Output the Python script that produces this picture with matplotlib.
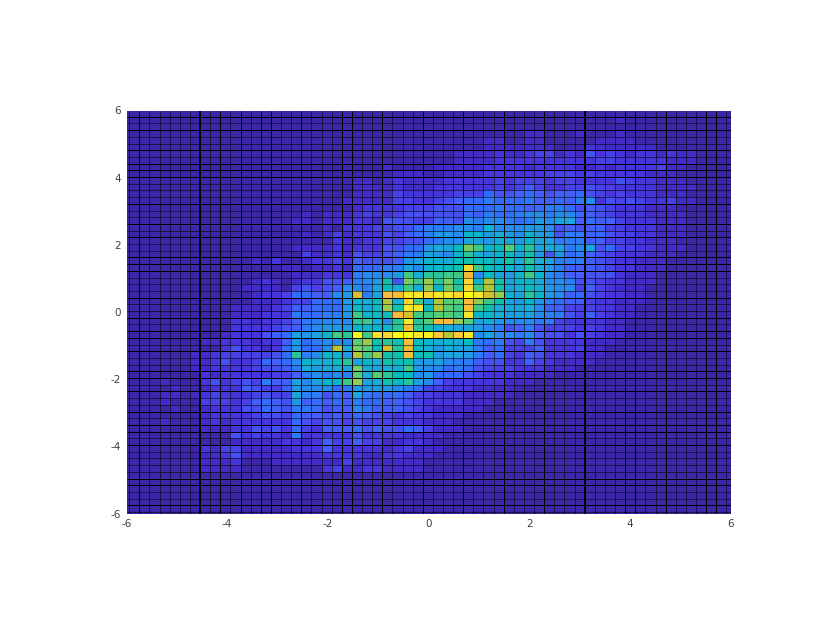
import numpy as np
import matplotlib.pyplot as plt
from matplotlib.colors import LinearSegmentedColormap

# counts, top row first, left column first
counts = [
    [1]*61,
    [1]*49 + [2] + [1]*11,
    [1]*61,
    [1]*40 + [2,2,1,1,1,2,1,1,1,2,1,1,1,1,1,1,1,1,1,1,1],
    [1]*36 + [2,2,1,1] + [2,2,1,1,1,1,1,2,2,2,2,1,1,1,1,1,1,1,1,1,1],
    [1]*36 + [2,2,2,2] + [2,2,2,1,1,1,3,2,2,2,2,2,2,1,1,1,1,1,1,1,1],
    [1,1,1,1,1,1,1, 1,1,1,1,1,1,1,1,1,1,1,1, 1,1,1,1,1,1,1,1,1,1,1,1,1,1,2,2,2,2,3,2,2, 3,4,4,2,3,2,5,3,4,3,2,3,3,2,3,2,2,1,1,1,1],
    [1,1,1,1,1,1,1, 1,1,1,1,1,1,1,1,1,1,1,1, 1,1,1,1,1,1,1,1,1,1,1,1,1,1,2,2,2,2,3,3,3, 3,3,3,3,3,3,3,4,4,3,3,3,3,3,2,2,2,1,1,1,1],
    [1,1,1,1,1,1,1, 1,1,1,1,1,1,1,1,1,1,1,1, 1,1,1,1,1,1,1,2,1,1,1,1,2,2,2,2,2,3,3,3,3, 2,3,3,3,3,2,2,3,2,3,3,3,3,4,2,2,1,1,1,1,1],
    [1,1,1,1,1,1,1, 1,1,1,1,1,1,1,1,1,1,1,1, 1,1,1,1,1,1,1,1,2,2,2,1,1,2,2,2,2,3,3,3,3, 3,3,4,4,4,3,4,3,3,3,3,3,2,2,2,1,1,1,1,1,1],
    [1,1,1,1,1,1,1, 1,1,1,1,1,1,1,1,1,1,1,1, 1,1,1,1,2,2,1,2,3,2,2,2,2,3,3,3,3,3,4,3,4, 4,4,3,4,4,3,3,3,3,5,4,3,3,2,2,2,1,1,1,1,1],
    [1,1,1,1,1,1,1, 1,1,1,1,1,1,1,1,1,1,1,1, 1,1,1,1,2,2,2,2,3,2,2,2,3,3,3,3,3,3,4,3,4, 6,4,3,3,4,4,5,4,4,3,3,3,3,2,2,2,2,1,1,1,1],
    [1,1,1,1,1,1,1, 1,1,1,1,1,1,1,1,1,1,1,1, 1,1,1,1,2,2,2,2,4,3,3,3,3,3,4,4,4,7,5,5,6, 7,6,5,6,6,7,5,4,3,4,3,3,3,2,2,2,1,1,1,1,1],
    [1,1,1,1,1,1,1, 1,1,1,1,1,1,1,1,1,1,1,1, 1,1,1,2,2,2,2,2,4,4,3,3,4,5,6,7,7,8,7,7,7, 8,6,6,7,6,8,9,3,5,4,5,4,3,3,4,2,2,1,1,1,1],
    [1,1,1,1,1,1,1, 1,1,1,1,1,1,1,1,1,1,1,1, 1,1,1,1,2,3,3,3,3,4,4,4,5,5,5,7,7,7,8,7,7, 6,7,8,8,7,5,6,5,4,3,3,3,2,2,2,1,1,1,1,1,1],
    [1,1,1,1,1,1,1, 1,1,1,1,1,1,1,1,1,1,1,2, 1,2,2,2,3,4,3,3,4,5,5,5,5,5,5,7,6,8,7,7,8, 9,9,8,9,9,7,6,5,4,3,3,3,2,2,2,2,1,1,1,1,1],
    [1,1,1,1,1,1,1, 1,1,1,1,1,1,1,1,1,1,2,2, 1,2,2,2,3,3,2,5,5,5,4,4,6,6,5,9,8,9,9,8,7, 8,10,9,11,11,6,7,6,6,4,3,3,3,2,2,2,1,1,1,1,1],
    [1,1,1,1,1,1,1, 1,1,1,1,1,1,1,1,1,1,1,1, 1,2,1,3,3,3,4,4,5,5,7,8,8,8,9,9,8,13,9,9,9, 10,10,9,5,6,5,6,6,4,4,3,3,3,2,2,2,1,1,1,1,1],
    [1,1,1,1,1,1,1, 1,1,1,1,1,1,1,1,1,1,1,2, 1,2,4,2,3,3,3,5,4,6,7,8,10,10,9,13,13,10,12,10,9, 13,10,10,5,8,8,6,7,5,4,4,3,3,2,2,2,1,1,1,1,1],
    [1,1,1,1,1,1,1, 1,1,1,1,1,1,1,1,1,1,1,1, 1,1,3,2,2,3,3,4,4,5,5,7,8,9,9,11,11,10,12,11,10, 13,11,11,8,8,8,6,6,4,4,3,3,2,2,2,1,1,1,1,1,1],
    [1,1,1,1,1,1,1, 1,1,1,1,1,1,1,1,1,1,2,2, 2,2,3,2,3,3,3,5,5,7,7,10,12,11,14,19,17,13,14,18,13, 16,11,12,11,8,9,11,5,7,4,4,3,3,2,2,2,1,1,1,1,1],
    [1,1,1,1,1,1,1, 1,1,1,1,1,1,1,1,1,1,1,4, 2,2,3,2,5,4,4,5,6,8,8,11,10,9,13,16,12,11,13,14,11, 15,10,5,10,7,8,6,5,4,3,3,3,2,2,2,1,1,1,1,1,1],
    [1,1,1,1,1,1,1, 1,1,1,1,1,1,2,1,3,1,1,2, 3,3,4,3,6,5,5,5,6,10,11,13,13,12,14,15,14,14,13,15,12, 16,12,11,8,8,8,6,5,4,3,3,2,2,2,1,1,1,1,1,1,1],
    [1,1,1,1,1,1,1, 1,1,1,1,1,1,1,1,1,2,2,1, 2,2,3,2,7,7,7,8,8,11,9,13,13,14,15,26,17,14,13,13,11, 15,12,10,8,6,6,6,5,4,3,3,2,2,2,1,1,1,1,1,1,1],
    [1,1,1,1,1,1,1, 1,1,1,1,1,1,1,1,1,1,2,2, 2,3,3,3,8,9,9,9,10,17,12,16,16,17,17,23,9,14,11,10,13, 17,13,9,8,6,6,5,5,5,3,2,2,2,1,1,1,1,1,1,1,1],
    [1,1,1,1,1,1,1, 1,1,1,1,1,1,2,3,2,1,2,3, 3,5,5,6,8,9,10,15,5,19,17,20,16,19,15,26,13,21,15,11,13, 13,12,9,9,8,5,5,4,3,3,2,2,2,1,1,1,1,1,1,1,1],
    [1,1,1,1,1,1,1, 1,1,1,1,1,2,2,2,2,1,4,5, 4,5,6,9,9,8,11,14,12,17,12,20,13,19,16,26,17,21,15,11,12, 14,12,10,9,9,4,6,4,3,2,2,2,1,1,1,1,1,1,1,1,1],
    [1,1,1,1,1,1,1, 1,1,1,1,1,1,2,3,3,4,7,7, 6,6,9,10,22,8,11,24,24,27,27,26,27,27,26,30,27,22,20,13,11, 16,13,10,9,6,7,5,4,3,3,2,2,1,1,1,1,1,1,1,1,1],
    [1,1,1,1,1,1,1, 1,1,1,1,1,1,2,2,2,3,4,4, 7,7,7,10,13,12,14,21,12,26,17,12,21,18,18,24,20,17,15,11,10, 13,10,8,7,6,6,4,3,3,2,2,2,1,1,1,1,1,1,1,1,1],
    [1,1,1,1,1,1,1, 1,1,1,1,2,2,2,2,3,4,6,6, 7,7,7,10,14,11,14,20,15,27,27,14,21,18,17,24,17,15,12,11,11, 12,9,6,6,4,4,4,3,3,2,2,1,1,1,1,1,1,1,1,1,1],
    [1,1,1,1,1,1,1, 1,1,1,1,2,2,2,3,3,3,8,7, 7,8,8,10,17,13,14,14,24,22,17,17,18,18,17,27,13,13,12,10,11, 11,9,8,8,5,4,6,4,3,2,2,1,1,1,1,1,1,1,1,1,1],
    [1,1,1,1,1,1,1, 1,1,1,1,3,3,2,3,3,4,6,8, 8,9,9,9,16,17,12,9,16,27,16,18,24,24,20,18,11,12,10,9,9, 9,8,8,4,3,3,3,3,2,2,1,1,1,1,1,1,1,1,1,1,1],
    [1,1,1,1,1,1,1, 1,1,1,1,3,3,3,3,4,5,6,8, 9,10,10,10,13,13,13,13,16,24,16,15,12,12,11,11,10,9,8,5,6, 8,5,4,4,4,3,4,3,2,2,1,1,1,1,1,1,1,1,1,1,1],
    [1,1,1,1,1,1,1, 1,1,1,2,3,3,3,5,6,7,11,10, 11,13,17,16,30,17,27,26,30,30,27,28,25,21,25,27,9,11,9,9,8, 9,6,5,5,3,5,4,3,2,2,1,1,1,1,1,1,1,1,1,1,1],
    [1,1,1,1,1,1,1, 1,2,2,3,3,3,2,3,3,6,10,7, 8,9,9,9,18,20,15,16,15,24,14,13,12,13,12,14,8,7,8,5,4, 8,5,3,3,3,3,2,2,2,1,1,1,1,1,1,1,1,1,1,1,1],
    [1,1,1,1,1,1,1, 1,1,1,3,5,3,3,2,3,7,10,7, 7,9,21,12,19,18,14,22,16,23,14,12,10,12,11,11,8,6,7,4,4, 4,6,3,3,3,4,2,2,1,1,1,1,1,1,1,1,1,1,1,1,1],
    [1,1,1,1,1,1,1, 2,2,3,4,4,4,4,4,5,7,16,8, 9,13,13,10,21,17,20,15,15,24,14,15,10,11,11,10,8,6,7,4,3, 6,5,3,3,3,2,2,2,1,1,1,1,1,1,1,1,1,1,1,1,1],
    [1,1,1,1,1,1,1, 2,2,3,5,3,3,4,7,6,7,9,13, 12,12,14,16,11,13,12,15,14,15,10,10,11,9,8,8,6,5,5,3,3, 6,4,3,2,2,2,2,1,1,1,1,1,1,1,1,1,1,1,1,1,1],
    [1,1,1,1,1,1,1, 2,2,3,3,3,3,4,5,5,6,8,12, 10,12,12,11,19,12,11,12,12,17,10,9,9,7,8,7,5,4,4,4,3, 3,3,2,2,2,1,1,1,1,1,1,1,1,1,1,1,1,1,1,1,1],
    [1,1,1,1,1,1,1, 1,3,2,3,3,3,3,3,4,4,6,8, 9,8,9,8,18,12,18,16,14,14,9,10,7,7,7,5,4,3,3,3,2, 2,2,2,1,1,1,1,1,1,1,1,1,1,1,1,1,1,1,1,1,1],
    [1,1,1,1,2,1,1, 1,3,5,3,4,5,4,8,6,6,11,9, 11,13,13,17,20,11,12,15,14,16,11,9,6,4,3,3,3,3,3,2,2, 2,1,1,1,1,1,1,1,1,1,1,1,1,1,1,1,1,1,1,1,1],
    [1,1,1,1,1,2,1, 1,2,3,3,3,6,5,4,4,6,10,9, 9,9,7,8,10,10,10,10,9,8,7,4,4,3,3,3,2,2,2,2,1, 1,1,1,1,1,1,1,1,1,1,1,1,1,1,1,1,1,1,1,1,1],
    [1,1,1,1,2,2,1, 2,3,4,3,3,3,4,5,4,4,11,8, 8,5,7,6,11,8,7,7,7,6,4,4,3,3,3,2,2,2,2,2,1, 1,1,1,1,1,1,1,1,1,1,1,1,1,1,1,1,1,1,1,1,1],
    [1,1,1,1,2,1,1, 1,4,4,4,3,4,6,7,6,5,10,6, 7,6,7,6,8,7,7,6,6,5,4,3,3,3,3,2,2,2,1,1,1, 1,1,1,1,1,1,1,1,1,1,1,1,1,1,1,1,1,1,1,1,1],
    [1,1,1,1,1,2,1, 1,2,3,3,3,5,5,7,6,5,8,8, 7,5,6,6,9,8,6,6,6,5,4,3,2,2,2,2,2,1,1,1,1, 1,1,1,1,1,1,1,1,1,1,1,1,1,1,1,1,1,1,1,1,1],
    [1,1,1,1,1,1,1, 1,2,3,3,3,3,4,5,5,4,7,6, 6,5,6,5,7,6,5,4,3,4,3,3,2,2,2,1,1,1,1,1,1, 1,1,1,1,1,1,1,1,1,1,1,1,1,1,1,1,1,1,1,1,1],
    [1,1,1,1,2,1,1, 1,2,3,2,3,3,3,3,3,3,7,5, 4,5,5,4,5,4,4,4,3,3,3,2,2,2,1,1,1,1,1,1,1, 1,1,1,1,1,1,1,1,1,1,1,1,1,1,1,1,1,1,1,1,1],
    [1,1,1,1,1,1,1, 1,2,2,2,3,3,5,4,5,3,7,4, 3,6,6,6,7,5,6,5,5,7,6,4,2,2,2,1,1,1,1,1,1, 1,1,1,1,1,1,1,1,1,1,1,1,1,1,1,1,1,1,1,1,1],
    [1,1,1,1,1,1,1, 1,1,1,1,5,3,4,3,3,2,8,3, 3,3,3,3,5,3,3,3,3,2,2,2,2,1,1,1,1,1,1,1,1, 1,1,1,1,1,1,1,1,1,1,1,1,1,1,1,1,1,1,1,1,1],
    [1,1,1,1,1,1,1, 1,1,1,1,2,2,2,2,2,3,3,2, 3,6,4,4,6,4,4,2,2,3,3,2,1,1,1,1,1,1,1,1,1, 1,1,1,1,1,1,1,1,1,1,1,1,1,1,1,1,1,1,1,1,1],
    [1,1,1,1,1,1,1, 1,3,2,4,4,2,2,2,2,2,3,3, 3,6,3,3,3,3,3,2,3,4,2,2,2,1,1,1,1,1,1,1,1, 1,1,1,1,1,1,1,1,1,1,1,1,1,1,1,1,1,1,1,1,1],
    [1,1,1,1,1,1,1, 1,2,2,3,5,2,2,2,2,2,2,2, 2,3,3,3,3,2,2,3,3,2,2,2,1,1,1,1,1,1,1,1,1, 1,1,1,1,1,1,1,1,1,1,1,1,1,1,1,1,1,1,1,1,1],
    [1,1,1,1,1,1,1, 1,2,2,2,3,1,1,1,2,2,2,2, 2,2,2,4,2,2,2,2,2,2,2,1,1,1,1,1,1,1,1,1,1, 1,1,1,1,1,1,1,1,1,1,1,1,1,1,1,1,1,1,1,1,1],
    [1,1,1,1,1,1,1, 1,2,2,2,2,1,1,1,1,1,1,1, 1,3,4,2,2,3,3,2,2,2,2,1,1,1,1,1,1,1,1,1,1, 1,1,1,1,1,1,1,1,1,1,1,1,1,1,1,1,1,1,1,1,1],
    [1]*61,
    [1]*61,
    [1]*61,
    [1]*61,
    [1]*61,
    [1]*61,
    [1]*61,
]
x_ticks = [-6, -4, -2, 0, 2, 4, 6]
y_ticks = [-6, -4, -2, 0, 2, 4, 6]
# which cell borders come out solid black in the picture, the rest are faint
black_x = [1, 7, 9, 11, 13, 14, 17, 21, 22, 25, 29, 33, 37, 41, 45, 49, 50, 53, 57, 58]
black_y = [0, 2, 5, 7, 8, 9, 13, 16, 18, 21, 22, 23, 27, 30, 32, 33, 35, 38, 39, 41, 44, 46, 47, 49, 54, 55, 58]
parula = ["#3e26a8", "#4530d5", "#4743e8", "#465cf8", "#2f6ffe", "#2987f0", "#1e9ce0",
          "#19abd8", "#05b8c4", "#10c0ab", "#35c690", "#59cc73", "#8dcc59", "#bcc433",
          "#eaba30", "#fdbd3c", "#fbd42f", "#f6ec27", "#f9fb15"]

plt.rcParams["axes.unicode_minus"] = False

Z = np.array(counts)
x_lines = -5.946 + 0.2011 * np.arange(60)
y_lines = 5.815 - 0.1995 * np.arange(60)
x_edges = np.r_[x_lines[0] - 0.2011, x_lines, x_lines[-1] + 0.2011]
y_edges = np.r_[y_lines[0] + 0.1995, y_lines, y_lines[-1] - 0.1995]

fig = plt.figure(figsize=(8.3, 6.42), dpi=100)
ax = fig.add_axes([126.5 / 830, 1 - 513.5 / 642, 604 / 830, 403 / 642])
cmap = LinearSegmentedColormap.from_list("parula", parula)
ax.pcolormesh(x_edges, y_edges, Z, cmap=cmap, vmin=1, vmax=29)

ax.vlines(x_lines, -6, 6, color="k", alpha=0.55, lw=0.72, snap=True)
ax.hlines(y_lines, -6, 6, color="k", alpha=0.55, lw=0.72, snap=True)
ax.vlines(x_lines[black_x], -6, 6, color="k", lw=0.72, snap=True)
ax.hlines(y_lines[black_y], -6, 6, color="k", lw=0.72, snap=True)
ax.vlines(x_lines[[7, 45]], -6, 6, color="k", lw=1.4, snap=True)

ax.set_xlim(-6, 6)
ax.set_ylim(-6, 6)
ax.set_xticks(x_ticks)
ax.set_yticks(y_ticks)
ax.tick_params(length=0, labelsize=7.5, labelcolor="#404040", pad=4)
for s in ax.spines.values():
    s.set_visible(False)

fig.savefig("out.png", dpi=100)
